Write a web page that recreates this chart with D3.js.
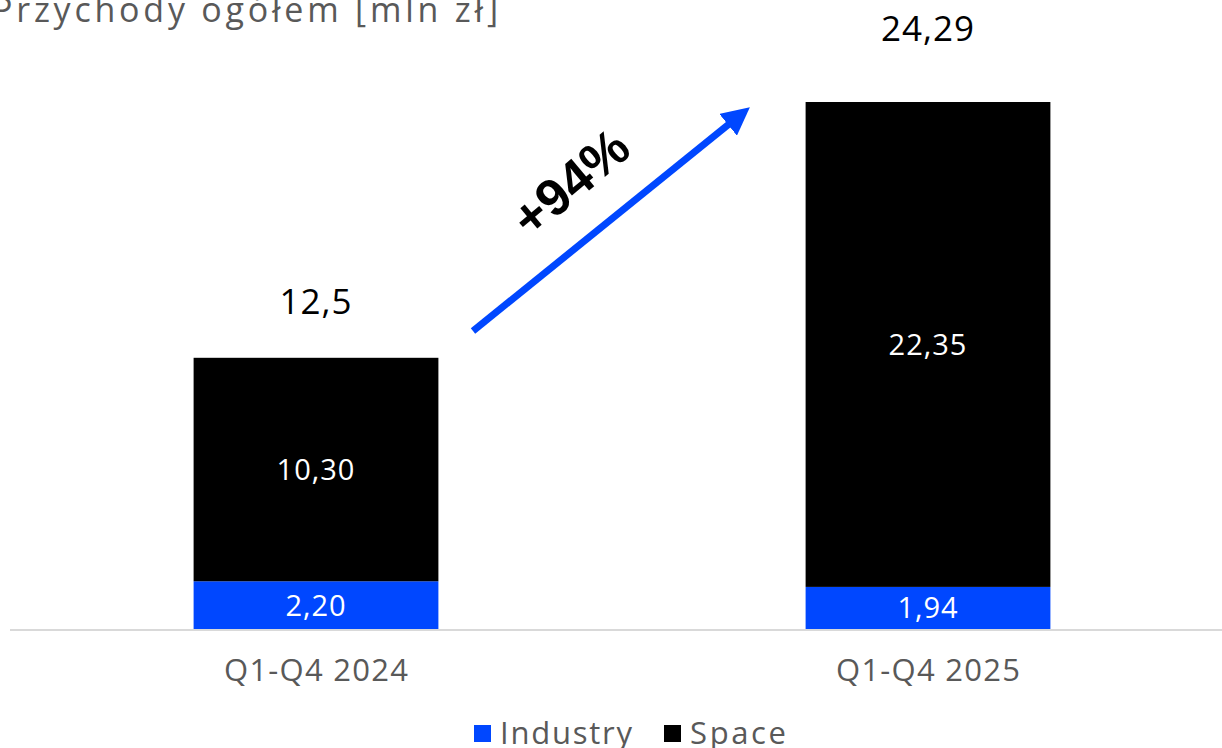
<!DOCTYPE html>
<html>
<head>
<meta charset="utf-8">
<script src="https://cdn.jsdelivr.net/npm/d3@7"></script>
<style>
  body { margin: 0; background: #fff; }
  svg text { font-family: "Open Sans", "Noto Sans", sans-serif; }
</style>
</head>
<body>
<svg id="chart" width="1222" height="748"></svg>
<script>
const categories = ["Q1-Q4 2024", "Q1-Q4 2025"];
const industry = [2.20, 1.94];
const space = [10.30, 22.35];
const totals = ["12,5", "24,29"];
const seriesNames = ["Industry", "Space"];
const colors = ["#0047ff", "#000000"];
const growthLabel = "+94%";

const svg = d3.select("#chart");
const baseY = 629;

const x = d3.scaleBand()
    .domain(categories)
    .range([10, 1234])
    .paddingInner(0.6)
    .paddingOuter(0.3);

const y = d3.scaleLinear()
    .domain([0, 24.29])
    .range([baseY, 102]);

const fmt = v => v.toFixed(2).replace(".", ",");

// title, cut at the left edge like the source
svg.append("text")
    .attr("x", -8)
    .attr("y", 22)
    .attr("fill", "#595959")
    .attr("font-size", 34)
    .attr("textLength", 506)
    .attr("lengthAdjust", "spacing")
    .text("Przychody ogółem [mln zł]");

const data = categories.map((c, i) => ({cat: c, industry: industry[i], space: space[i], total: totals[i]}));
const stack = d3.stack().keys(["industry", "space"])(data);

const g = svg.append("g");
stack.forEach((layer, li) => {
    g.selectAll(".bar" + li)
        .data(layer)
        .enter().append("rect")
        .attr("x", d => x(d.data.cat))
        .attr("width", x.bandwidth())
        .attr("y", d => y(d[1]))
        .attr("height", d => y(d[0]) - y(d[1]))
        .attr("fill", colors[li]);

    g.selectAll(".lbl" + li)
        .data(layer)
        .enter().append("text")
        .attr("x", d => x(d.data.cat) + x.bandwidth() / 2)
        .attr("y", d => (y(d[0]) + y(d[1])) / 2)
        .attr("dy", "0.36em")
        .attr("text-anchor", "middle")
        .attr("fill", "#fff")
        .attr("font-size", 29)
        .attr("letter-spacing", 1)
        .text(d => fmt(d[1] - d[0]));
});

// totals (the second one sits higher, as in the source)
g.selectAll(".total")
    .data(data)
    .enter().append("text")
    .attr("x", d => x(d.cat) + x.bandwidth() / 2)
    .attr("y", (d, i) => y(d.industry + d.space) - (i === 0 ? 56 : 74))
    .attr("dy", "0.36em")
    .attr("text-anchor", "middle")
    .attr("fill", "#000")
    .attr("font-size", 35)
    .attr("letter-spacing", 1)
    .text(d => d.total);

// axis line
svg.append("line")
    .attr("x1", 10).attr("x2", 1222)
    .attr("y1", baseY + 1).attr("y2", baseY + 1)
    .attr("stroke", "#d9d9d9")
    .attr("stroke-width", 2);

// category labels
svg.selectAll(".cat")
    .data(categories)
    .enter().append("text")
    .attr("x", d => x(d) + x.bandwidth() / 2 - 92)
    .attr("y", 670)
    .attr("dy", "0.36em")
    .attr("fill", "#595959")
    .attr("font-size", 31)
    .attr("textLength", 184)
    .attr("lengthAdjust", "spacing")
    .text(d => d);

// growth arrow
const defs = svg.append("defs");
defs.append("marker")
    .attr("id", "head")
    .attr("viewBox", "0 0 10 10")
    .attr("refX", 5).attr("refY", 5)
    .attr("markerWidth", 4).attr("markerHeight", 4)
    .attr("orient", "auto")
    .append("path")
    .attr("d", "M0,0L10,5L0,10Z")
    .attr("fill", colors[0]);

svg.append("line")
    .attr("x1", 473).attr("y1", 331)
    .attr("x2", 739).attr("y2", 116)
    .attr("stroke", colors[0])
    .attr("stroke-width", 7)
    .attr("marker-end", "url(#head)");

svg.append("text")
    .attr("transform", "translate(570,182) rotate(-40)")
    .attr("text-anchor", "middle")
    .attr("dy", "0.36em")
    .attr("font-weight", "bold")
    .attr("font-size", 52)
    .attr("fill", "#000")
    .style("font-family", "'Liberation Sans', Arial, sans-serif")
    .text(growthLabel);

// legend
const legend = svg.append("g").attr("transform", "translate(474,733)");
const items = [
    {name: seriesNames[0], color: colors[0], x: 0, w: 132},
    {name: seriesNames[1], color: colors[1], x: 190, w: 96}
];
items.forEach(it => {
    legend.append("rect")
        .attr("x", it.x).attr("y", -8)
        .attr("width", 17).attr("height", 17)
        .attr("fill", it.color);
    legend.append("text")
        .attr("x", it.x + 26).attr("y", 0)
        .attr("dy", "0.36em")
        .attr("fill", "#595959")
        .attr("font-size", 31)
        .attr("textLength", it.w)
        .attr("lengthAdjust", "spacing")
        .text(it.name);
});
</script>
</body>
</html>
